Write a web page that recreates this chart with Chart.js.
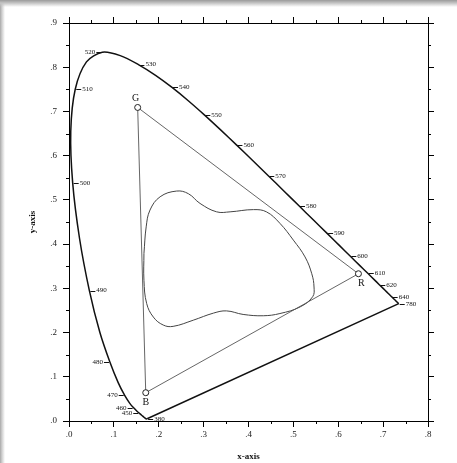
<!DOCTYPE html>
<html><head><meta charset="utf-8">
<script src="https://cdn.jsdelivr.net/npm/chart.js@4/dist/chart.umd.min.js"></script>
<style>
html,body{margin:0;padding:0;width:457px;height:463px;overflow:hidden;background:#fff;}
#wrap{position:relative;width:457px;height:463px;
 background:
  linear-gradient(to bottom, #9a9a9a 0px, #c4c4c4 3px, rgba(255,255,255,0) 7px),
  linear-gradient(to right, #a8a8a8 0px, #d0d0d0 2px, rgba(255,255,255,0) 5px),
  #fff;}
canvas{position:absolute;left:0;top:0;}
</style></head>
<body><div id="wrap"><canvas id="c" width="457" height="463"></canvas></div>
<script>
// Spectral locus (wavelength nm, x, y)
const wavelengths = [380,385,390,395,400,405,410,415,420,425,430,435,440,445,450,455,460,465,470,475,480,485,490,495,500,505,510,515,520,525,530,535,540,545,550,555,560,565,570,575,580,585,590,595,600,605,610,615,620,625,630,635,640,645,650,660,670,680,690,700,780];
const locusX = [0.1741,0.1740,0.1738,0.1736,0.1733,0.1730,0.1726,0.1721,0.1714,0.1703,0.1689,0.1669,0.1644,0.1611,0.1566,0.1510,0.1440,0.1355,0.1241,0.1096,0.0913,0.0687,0.0454,0.0235,0.0082,0.0039,0.0139,0.0389,0.0743,0.1142,0.1547,0.1929,0.2296,0.2658,0.3016,0.3373,0.3731,0.4087,0.4441,0.4788,0.5125,0.5448,0.5752,0.6029,0.6270,0.6482,0.6658,0.6801,0.6915,0.7006,0.7079,0.7140,0.7190,0.7230,0.7260,0.7300,0.7320,0.7334,0.7344,0.7347,0.7347];
const locusY = [0.0050,0.0050,0.0049,0.0049,0.0048,0.0048,0.0048,0.0048,0.0051,0.0058,0.0069,0.0086,0.0109,0.0138,0.0177,0.0227,0.0297,0.0399,0.0578,0.0868,0.1327,0.2007,0.2950,0.4127,0.5384,0.6548,0.7502,0.8120,0.8338,0.8262,0.8059,0.7816,0.7543,0.7243,0.6923,0.6589,0.6245,0.5896,0.5547,0.5202,0.4866,0.4544,0.4242,0.3965,0.3725,0.3514,0.3340,0.3197,0.3083,0.2993,0.2920,0.2859,0.2809,0.2770,0.2740,0.2700,0.2680,0.2666,0.2656,0.2653,0.2653];

// Labelled wavelengths and which side the label sits on
const markedWavelengths = [380,450,460,470,480,490,500,510,520,530,540,550,560,570,580,590,600,610,620,640,780];
const markSides =         ['r','l','l','l','l','r','r','r','l','r','r','r','r','r','r','r','r','r','r','r','r'];

// Primaries
const primaryNames = ['R','G','B'];
const primaryX = [0.645, 0.153, 0.171];
const primaryY = [0.333, 0.709, 0.064];

// Inner gamut contour
const gamutX = [0.167,0.172,0.1805,0.203,0.240,0.266,0.292,0.329,0.359,0.411,0.440,0.470,0.500,0.526,0.541,0.546,0.543,0.515,0.470,0.433,0.388,0.351,0.322,0.277,0.232,0.210,0.188,0.173,0.167,0.167];
const gamutY = [0.379,0.439,0.477,0.507,0.520,0.514,0.492,0.473,0.473,0.478,0.473,0.447,0.409,0.371,0.333,0.303,0.281,0.258,0.243,0.238,0.241,0.249,0.244,0.228,0.214,0.217,0.235,0.266,0.318,0.379];

// Axis ranges / tick steps
const xMin = 0, xMax = 0.8, yMin = 0, yMax = 0.9, majorStep = 0.1, minorStep = 0.05;

const FONT = '"Liberation Serif","DejaVu Serif",serif';
const pts = (xs, ys) => xs.map((x, i) => ({x, y: ys[i]}));
const fmt = v => (Math.round(v * 10) / 10).toFixed(1).replace(/^0/, '');

const locusPts = pts(locusX, locusY);
const purplePts = [locusPts[0], locusPts[locusPts.length - 1]];
const triPts = pts([primaryX[0], primaryX[1], primaryX[2], primaryX[0]], [primaryY[0], primaryY[1], primaryY[2], primaryY[0]]);

const minorTicks = {
  id: 'minorTicks',
  afterDraw(chart) {
    const {ctx, chartArea: a, scales: {x, y}} = chart;
    ctx.save();
    ctx.strokeStyle = '#000'; ctx.lineWidth = 1;
    ctx.beginPath();
    for (let v = xMin + minorStep; v < xMax; v += majorStep) {
      const p = Math.round(x.getPixelForValue(v)) + 0.5;
      ctx.moveTo(p, a.bottom); ctx.lineTo(p, a.bottom + 3);
      ctx.moveTo(p, a.top); ctx.lineTo(p, a.top - 3);
    }
    for (let v = yMin + minorStep; v < yMax; v += majorStep) {
      const p = Math.round(y.getPixelForValue(v)) + 0.5;
      ctx.moveTo(a.left, p); ctx.lineTo(a.left - 3, p);
      ctx.moveTo(a.right, p); ctx.lineTo(a.right + 3, p);
    }
    ctx.stroke();
    ctx.restore();
  }
};

const annotations = {
  id: 'annotations',
  afterDatasetsDraw(chart) {
    const {ctx, scales: {x, y}} = chart;
    ctx.save();
    ctx.strokeStyle = '#111'; ctx.fillStyle = '#111'; ctx.lineWidth = 1;
    ctx.font = '7px ' + FONT;
    ctx.textBaseline = 'middle';
    markedWavelengths.forEach((w, k) => {
      const i = wavelengths.indexOf(w);
      const px = x.getPixelForValue(locusX[i]);
      const py = y.getPixelForValue(locusY[i]);
      const dir = markSides[k] === 'r' ? 1 : -1;
      ctx.beginPath();
      ctx.moveTo(px + dir * 1, Math.round(py) + 0.5);
      ctx.lineTo(px + dir * 6, Math.round(py) + 0.5);
      ctx.stroke();
      ctx.textAlign = dir > 0 ? 'left' : 'right';
      ctx.fillText(String(w), px + dir * 7, py);
    });
    ctx.font = '10px ' + FONT;
    ctx.textAlign = 'center';
    const offs = {R: [3, 10], G: [-2, -9], B: [0, 10]};
    primaryNames.forEach((n, i) => {
      const px = x.getPixelForValue(primaryX[i]);
      const py = y.getPixelForValue(primaryY[i]);
      ctx.fillText(n, px + offs[n][0], py + offs[n][1]);
    });
    ctx.restore();
  }
};

const tickFont = {family: FONT, size: 9};
const titleFont = {family: FONT, size: 9, weight: 'bold'};
const gridOpts = {display: true, drawOnChartArea: false, drawTicks: true, tickLength: 6, color: '#000', tickColor: '#000', lineWidth: 1};
const borderOpts = {display: true, color: '#000', width: 1};

new Chart(document.getElementById('c'), {
  type: 'scatter',
  data: {
    datasets: [
      {data: locusPts, showLine: true, borderColor: '#111', borderWidth: 1.5, pointRadius: 0, tension: 0.3, order: 2},
      {data: purplePts, showLine: true, borderColor: '#111', borderWidth: 1.5, pointRadius: 0, tension: 0, order: 2},
      {data: triPts, showLine: true, borderColor: '#555', borderWidth: 0.9, pointRadius: 0, tension: 0, order: 3},
      {data: pts(gamutX, gamutY), showLine: true, borderColor: '#444', borderWidth: 1, pointRadius: 0, tension: 0.4, order: 3},
      {data: pts(primaryX, primaryY), showLine: false, pointRadius: 3, pointStyle: 'circle', pointBackgroundColor: '#fff', pointBorderColor: '#222', pointBorderWidth: 1, order: 1}
    ]
  },
  options: {
    responsive: false, animation: false, devicePixelRatio: 1,
    layout: {padding: 0},
    plugins: {legend: {display: false}, tooltip: {enabled: false}},
    scales: {
      x: {type: 'linear', position: 'bottom', min: xMin, max: xMax,
        ticks: {stepSize: majorStep, callback: fmt, font: tickFont, color: '#222', padding: 2, maxRotation: 0, autoSkip: false},
        grid: gridOpts, border: borderOpts,
        title: {display: true, text: 'x-axis', font: titleFont, color: '#111', padding: {top: 0, bottom: 1}},
        afterFit(s) { s.height = 42; }},
      x2: {type: 'linear', position: 'top', min: xMin, max: xMax,
        ticks: {stepSize: majorStep, display: false},
        grid: gridOpts, border: borderOpts,
        afterFit(s) { s.height = 23; }},
      y: {type: 'linear', position: 'left', min: yMin, max: yMax,
        ticks: {stepSize: majorStep, callback: fmt, font: tickFont, color: '#222', padding: 6, autoSkip: false},
        grid: gridOpts, border: borderOpts,
        title: {display: true, text: 'y-axis', font: titleFont, color: '#111', padding: {top: 27.6, bottom: 0}},
        afterFit(s) { s.width = 69; }},
      y2: {type: 'linear', position: 'right', min: yMin, max: yMax,
        ticks: {stepSize: majorStep, display: false},
        grid: gridOpts, border: borderOpts,
        afterFit(s) { s.width = 29; }}
    }
  },
  plugins: [minorTicks, annotations]
});
</script>
</body></html>
